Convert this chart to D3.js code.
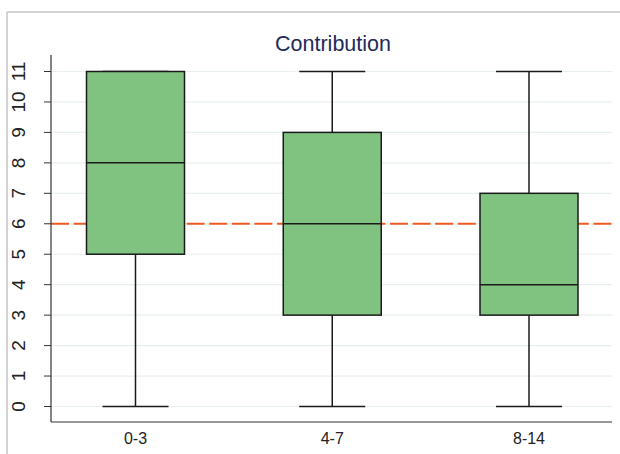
<!DOCTYPE html>
<meta charset="utf-8"/>
<head>
<script src="https://d3js.org/d3.v7.min.js"></script>
<style>
  body { margin: 0; background: #fff; }
  text { font-family: 'Liberation Sans', Arial, sans-serif; fill: #222; }
  .grid line { stroke: #e8eff0; stroke-width: 1.2px; }
  .box rect { fill: #80c280; stroke: #1a1a1a; stroke-width: 1.5px; }
  .box line { stroke: #1a1a1a; stroke-width: 1.5px; }
  .ylab { font-size: 19px; }
</style>
</head>
<body>
<div id="chart"></div>
<script>

// data
var groups = ["0-3", "4-7", "8-14"];
var lowWhisker = [0, 0, 0];
var q1 = [5, 3, 3];
var median = [8, 6, 4];
var q3 = [11, 9, 7];
var highWhisker = [11, 11, 11];
var refLine = 6;
var yTicks = [0, 1, 2, 3, 4, 5, 6, 7, 8, 9, 10, 11];
var title = "Contribution";

var W = 620, H = 454;
var plot = { left: 51, right: 612, top: 55, bottom: 422 };

var svg = d3.select("#chart").append("svg")
    .attr("width", W)
    .attr("height", H)
    .style("display", "block");

// outer frame (only top and left visible in the crop)
svg.append("line").attr("x1", 7).attr("x2", W).attr("y1", 12).attr("y2", 12)
  .style("stroke", "#c4c4c4").style("stroke-width", 1.5);
svg.append("line").attr("x1", 7).attr("x2", 7).attr("y1", 12).attr("y2", H)
  .style("stroke", "#c4c4c4").style("stroke-width", 1.5);

var y = d3.scaleLinear().domain([0, 11]).range([406.5, 71.5]);
var x = d3.scalePoint().domain(groups).range([135.5, 529]);

var boxW = 98, capW = 66;

// grid
svg.append("g").attr("class", "grid")
  .selectAll("line")
  .data(yTicks)
  .enter().append("line")
    .attr("x1", plot.left).attr("x2", plot.right)
    .attr("y1", function(d) { return y(d); })
    .attr("y2", function(d) { return y(d); });

// reference line
svg.append("line")
  .attr("x1", plot.left).attr("x2", plot.right)
  .attr("y1", y(refLine)).attr("y2", y(refLine))
  .style("stroke", "#ee5a22")
  .style("stroke-width", 1.8)
  .style("stroke-dasharray", "18,4.6");

// boxes
var rows = groups.map(function(g, i) {
  return { g: g, lo: lowWhisker[i], q1: q1[i], med: median[i], q3: q3[i], hi: highWhisker[i] };
});

var box = svg.selectAll(".box")
  .data(rows)
  .enter().append("g")
    .attr("class", "box");

box.append("line")
  .attr("x1", function(d) { return x(d.g); })
  .attr("x2", function(d) { return x(d.g); })
  .attr("y1", function(d) { return y(d.hi); })
  .attr("y2", function(d) { return y(d.q3); });
box.append("line")
  .attr("x1", function(d) { return x(d.g); })
  .attr("x2", function(d) { return x(d.g); })
  .attr("y1", function(d) { return y(d.q1); })
  .attr("y2", function(d) { return y(d.lo); });
box.append("line")
  .attr("x1", function(d) { return x(d.g) - capW / 2; })
  .attr("x2", function(d) { return x(d.g) + capW / 2; })
  .attr("y1", function(d) { return y(d.hi); })
  .attr("y2", function(d) { return y(d.hi); });
box.append("line")
  .attr("x1", function(d) { return x(d.g) - capW / 2; })
  .attr("x2", function(d) { return x(d.g) + capW / 2; })
  .attr("y1", function(d) { return y(d.lo); })
  .attr("y2", function(d) { return y(d.lo); });
box.append("rect")
  .attr("x", function(d) { return x(d.g) - boxW / 2; })
  .attr("width", boxW)
  .attr("y", function(d) { return y(d.q3); })
  .attr("height", function(d) { return y(d.q1) - y(d.q3); });
box.append("line")
  .attr("x1", function(d) { return x(d.g) - boxW / 2; })
  .attr("x2", function(d) { return x(d.g) + boxW / 2; })
  .attr("y1", function(d) { return y(d.med); })
  .attr("y2", function(d) { return y(d.med); });

// y ticks and labels
svg.append("g").selectAll("line")
  .data(yTicks)
  .enter().append("line")
    .attr("x1", plot.left - 7).attr("x2", plot.left)
    .attr("y1", function(d) { return y(d); })
    .attr("y2", function(d) { return y(d); })
    .style("stroke", "#333");

svg.selectAll(".ylab")
  .data(yTicks)
  .enter().append("text")
    .attr("class", "ylab")
    .attr("transform", function(d) { return "translate(18," + y(d) + ") rotate(-90)"; })
    .attr("dy", "0.36em")
    .style("text-anchor", "middle")
    .text(function(d) { return d; });

svg.append("line")
  .attr("x1", plot.left).attr("x2", plot.left)
  .attr("y1", plot.top).attr("y2", plot.bottom)
  .style("stroke", "#333").style("stroke-width", 1.2);

svg.append("line")
  .attr("x1", plot.left).attr("x2", plot.right)
  .attr("y1", plot.bottom).attr("y2", plot.bottom)
  .style("stroke", "#333").style("stroke-width", 1.2);

svg.selectAll(".xlab")
  .data(groups)
  .enter().append("text")
    .attr("class", "xlab")
    .attr("x", function(d) { return x(d); })
    .attr("y", 444)
    .style("text-anchor", "middle")
    .style("font-size", "16px")
    .text(function(d) { return d; });

svg.append("text")
  .attr("x", 333)
  .attr("y", 51)
  .style("text-anchor", "middle")
  .style("font-size", "21.5px")
  .style("fill", "#1e2b58")
  .text(title);

</script>
</body>
